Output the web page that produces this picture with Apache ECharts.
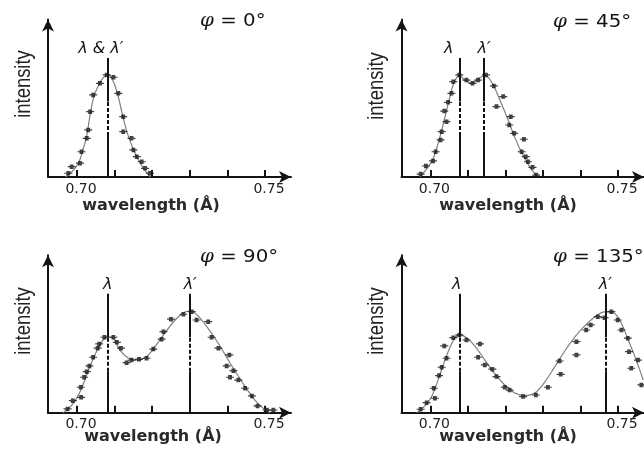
<!DOCTYPE html>
<html>
<head>
<meta charset="utf-8">
<script src="https://cdn.jsdelivr.net/npm/echarts@6/dist/echarts.min.js"></script>
<style>
  html, body { margin: 0; padding: 0; background: #fff; }
  #chart { width: 644px; height: 453px; }
</style>
</head>
<body>
<div id="chart"></div>
<script>
// Compton scattering: X-ray intensity vs wavelength at four scattering angles.

// scattering angles (panel titles)
const angleTitles = ['0°', '45°', '90°', '135°'];

// wavelength axis (Å)
const wavelengthMin = 0.6923;
const wavelengthMax = 0.7569;
const tickValues = [0.70, 0.71, 0.72, 0.73, 0.74, 0.75];
const tickLabels = [0.70, 0.75];

// intensity axis (arbitrary units)
const intensityMax = 96;

// measured points, phi = 0°
const points0 = [
  [0.6977, 2.3], [0.6986, 6.3], [0.7008, 8.4], [0.7012, 15.4], [0.7026, 23.6],
  [0.7030, 28.7], [0.7035, 39.8], [0.7043, 50.0], [0.7061, 57.1], [0.7079, 62.2],
  [0.7097, 60.8], [0.7110, 51.0], [0.7123, 36.8], [0.7123, 27.6], [0.7145, 23.6],
  [0.7150, 16.5], [0.7159, 12.4], [0.7172, 9.3], [0.7181, 5.3], [0.7194, 2.3]
];
// fitted profile, phi = 0°
const curve0 = [
  [0.6970, 0], [0.6990, 4], [0.7005, 9], [0.7015, 16], [0.7025, 24], [0.7035, 38],
  [0.7045, 49], [0.7060, 57], [0.7072, 61], [0.7082, 62.5], [0.7095, 59], [0.7105, 53],
  [0.7115, 44], [0.7125, 34], [0.7135, 26], [0.7148, 18], [0.7162, 11], [0.7178, 5],
  [0.7195, 0]
];

// measured points, phi = 45°
const points45 = [
  [0.6974, 1.8], [0.6988, 6.7], [0.7007, 9.8], [0.7014, 15.4], [0.7027, 22.6],
  [0.7030, 27.6], [0.7043, 33.7], [0.7037, 40.2], [0.7047, 45.5], [0.7056, 51.0],
  [0.7061, 58.1], [0.7077, 62.2], [0.7096, 59.1], [0.7112, 57.1], [0.7127, 59.1],
  [0.7148, 62.2], [0.7169, 55.5], [0.7176, 42.9], [0.7194, 49.0], [0.7210, 31.7],
  [0.7214, 36.8], [0.7223, 26.6], [0.7243, 15.4], [0.7249, 23.0], [0.7254, 12.4],
  [0.7260, 9.3], [0.7272, 5.9], [0.7282, 1.2]
];
const curve45 = [
  [0.6972, 0], [0.6990, 5], [0.7005, 10], [0.7020, 20], [0.7035, 33], [0.7050, 47],
  [0.7062, 57], [0.7077, 62], [0.7092, 59], [0.7110, 57], [0.7128, 60], [0.7146, 62],
  [0.7165, 57], [0.7185, 47], [0.7205, 36], [0.7225, 24], [0.7245, 14], [0.7265, 6],
  [0.7285, 0]
];

// measured points, phi = 90°
const points90 = [
  [0.6975, 2.3], [0.6989, 7.3], [0.7011, 9.4], [0.7010, 15.5], [0.7019, 21.6],
  [0.7026, 25.0], [0.7033, 28.5], [0.7043, 33.8], [0.7055, 39.3], [0.7059, 41.9],
  [0.7073, 46.0], [0.7097, 46.0], [0.7106, 42.9], [0.7117, 39.3], [0.7132, 30.5],
  [0.7145, 32.1], [0.7165, 32.6], [0.7185, 33.2], [0.7203, 38.8], [0.7225, 44.8],
  [0.7230, 49.4], [0.7250, 57.0], [0.7283, 60.0], [0.7305, 61.6], [0.7318, 56.5],
  [0.7349, 55.5], [0.7358, 46.0], [0.7376, 39.3], [0.7405, 35.2], [0.7398, 28.5],
  [0.7416, 25.6], [0.7407, 21.6], [0.7429, 19.9], [0.7447, 14.9], [0.7465, 10.2],
  [0.7480, 4.1], [0.7505, 1.6], [0.7522, 1.6]
];
const curve90 = [
  [0.6963, 0], [0.6987, 4.7], [0.7008, 12.6], [0.7035, 28.5], [0.7061, 41.3],
  [0.7080, 46.2], [0.7096, 45.5], [0.7114, 38.2], [0.7136, 33.4], [0.7160, 32.1],
  [0.7184, 34.0], [0.7207, 40.1], [0.7234, 48.6], [0.7261, 56.5], [0.7287, 61.4],
  [0.7303, 62.0], [0.7322, 59.0], [0.7348, 51.6], [0.7375, 42.5], [0.7407, 30.3],
  [0.7439, 18.7], [0.7473, 7.7], [0.7500, 1.6], [0.7513, 0]
];

// measured points, phi = 135°
const points135 = [
  [0.6974, 2.1], [0.6990, 6.1], [0.7012, 8.8], [0.7009, 14.9], [0.7023, 22.6],
  [0.7030, 27.7], [0.7043, 33.2], [0.7037, 40.7], [0.7061, 45.7], [0.7077, 47.4],
  [0.7096, 44.3], [0.7132, 41.9], [0.7127, 33.8], [0.7145, 29.1], [0.7165, 26.5],
  [0.7176, 22.0], [0.7198, 15.5], [0.7211, 13.8], [0.7247, 9.8], [0.7281, 10.8],
  [0.7313, 15.5], [0.7344, 31.5], [0.7347, 23.4], [0.7389, 43.3], [0.7389, 35.2],
  [0.7415, 50.4], [0.7427, 53.5], [0.7446, 58.5], [0.7464, 57.9], [0.7482, 61.6],
  [0.7499, 56.5], [0.7509, 50.4], [0.7526, 45.4], [0.7529, 37.2], [0.7535, 27.1],
  [0.7553, 32.1], [0.7562, 16.9]
];
const curve135 = [
  [0.6964, 0], [0.6985, 4.1], [0.7004, 10.2], [0.7025, 23], [0.7047, 37], [0.7065, 45.5],
  [0.7078, 47.4], [0.7097, 45.5], [0.7118, 40.7], [0.7145, 32.1], [0.7172, 23.6],
  [0.7198, 16.9], [0.7225, 12.0], [0.7251, 10.5], [0.7278, 12.0], [0.7304, 18.5],
  [0.7331, 27.9], [0.7358, 37.6], [0.7385, 46.2], [0.7411, 52.9], [0.7438, 58.4],
  [0.7464, 61.4], [0.7483, 61.4], [0.7504, 56.5], [0.7525, 45.5], [0.7546, 33.4],
  [0.7567, 19.9]
];

// primary (λ) and shifted (λ′) line positions, Å
const lines0 = [0.7082];
const lines45 = [0.7078, 0.7143];
const lines90 = [0.7082, 0.7301];
const lines135 = [0.7078, 0.7466];
const lineNames0 = ['λ & λ′'];
const lineNames45 = ['λ', 'λ′'];
const lineNames90 = ['λ', 'λ′'];
const lineNames135 = ['λ', 'λ′'];

// height of the marker lines and the dashed stretch inside the profile
const lineTop = 72.5;
const dashFrom = 25;
const dashTo = 46;

// ---- layout ----
const grids = [
  { left: 48, top: 19.5, width: 243, height: 157.5 },
  { left: 401.5, top: 19.5, width: 243, height: 157.5 },
  { left: 48, top: 255.2, width: 243, height: 157.5 },
  { left: 401.5, top: 255.2, width: 243, height: 157.5 }
];
const labelNudge = [[-7], [-11, 0], [0, 0], [-3, 0]];
const intensityPos = [[24, 84], [376.5, 86], [24, 321], [376.5, 321]];
const wavelengthPos = [[151, 205.5], [508, 206], [153, 437], [508, 437]];
const titlePos = [[200, 21], [553, 22], [200, 257], [553, 257]];

const panels = [
  { points: points0, curve: curve0, lines: lines0, names: lineNames0 },
  { points: points45, curve: curve45, lines: lines45, names: lineNames45 },
  { points: points90, curve: curve90, lines: lines90, names: lineNames90 },
  { points: points135, curve: curve135, lines: lines135, names: lineNames135 }
];

const ink = '#141414';
// a dark dot with a short horizontal bar through it
const pointSymbol = 'path://M0 3.2H10V4.8H0Z M2.6 1H7.4V7H2.6Z';

const xAxes = grids.map((g, i) => ({
  type: 'value', gridIndex: i, min: wavelengthMin, max: wavelengthMax,
  splitLine: { show: false },
  axisLine: { show: true, onZero: false, symbol: ['none', 'arrow'], symbolSize: [9, 12],
    lineStyle: { color: ink, width: 2 } },
  axisTick: { show: true, inside: true, length: 7, customValues: tickValues,
    lineStyle: { color: ink, width: 2 } },
  axisLabel: { show: true, customValues: tickLabels, margin: 5,
    formatter: v => v.toFixed(2), fontFamily: 'DejaVu Sans', fontSize: 14, color: '#222',
    padding: [0, 0, 0, 8] }
}));

const yAxes = grids.map((g, i) => ({
  type: 'value', gridIndex: i, min: 0, max: intensityMax,
  splitLine: { show: false },
  axisLine: { show: true, onZero: false, symbol: ['none', 'arrow'], symbolSize: [9, 12],
    lineStyle: { color: ink, width: 2 } },
  axisTick: { show: false },
  axisLabel: { show: false }
}));

const series = [];
panels.forEach((p, i) => {
  const markData = [];
  p.lines.forEach((x, k) => {
    const nudge = labelNudge[i][k];
    markData.push([{ coord: [x, 0], lineStyle: { type: 'solid' } }, { coord: [x, dashFrom] }]);
    markData.push([{ coord: [x, dashFrom], lineStyle: { type: [4, 2] } }, { coord: [x, dashTo] }]);
    markData.push([{
      coord: [x, dashTo], lineStyle: { type: 'solid' },
      label: {
        show: true, position: 'end', formatter: p.names[k], distance: 1,
        fontFamily: 'DejaVu Sans', fontStyle: 'italic', fontSize: 16, color: ink,
        padding: nudge < 0 ? [0, -2 * nudge, 0, 0] : [0, 0, 0, 2 * nudge]
      }
    }, { coord: [x, lineTop] }]);
  });
  series.push({
    type: 'line', xAxisIndex: i, yAxisIndex: i, data: p.curve, smooth: 0.35,
    showSymbol: false, silent: true, z: 2,
    lineStyle: { color: '#808080', width: 1.2 },
    markLine: {
      silent: true, symbol: ['none', 'none'], animation: false, z: 3,
      lineStyle: { color: ink, width: 2 },
      label: { show: false },
      data: markData
    }
  });
  series.push({
    type: 'scatter', xAxisIndex: i, yAxisIndex: i, data: p.points, silent: true, z: 4,
    symbol: pointSymbol, symbolSize: [8, 4.5],
    itemStyle: { color: '#111' }
  });
});

const graphic = [];
intensityPos.forEach(([x, y]) => graphic.push({
  type: 'text', x, y, rotation: Math.PI / 2, scaleX: 1.15, scaleY: 1.4, silent: true,
  style: { text: 'intensity', fontFamily: 'Liberation Sans', fontSize: 16, fill: '#222',
    textAlign: 'center', textVerticalAlign: 'middle' }
}));
wavelengthPos.forEach(([x, y]) => graphic.push({
  type: 'text', x, y, silent: true,
  style: { text: 'wavelength (Å)', fontFamily: 'DejaVu Sans', fontWeight: 'bold', fontSize: 16,
    fill: '#2a2a2a', textAlign: 'center', textVerticalAlign: 'middle' }
}));
titlePos.forEach(([x, y], i) => graphic.push({
  type: 'text', x, y, silent: true, scaleX: 1.1,
  style: { text: '{p|φ} = ' + angleTitles[i], fontFamily: 'DejaVu Sans', fontSize: 18,
    fill: ink, textAlign: 'left', textVerticalAlign: 'middle',
    rich: { p: { fontFamily: 'DejaVu Serif', fontStyle: 'italic', fontSize: 18, fill: ink } } }
}));

const chart = echarts.init(document.getElementById('chart'), null, { renderer: 'canvas' });
chart.setOption({
  animation: false,
  backgroundColor: '#ffffff',
  grid: grids,
  xAxis: xAxes,
  yAxis: yAxes,
  series,
  graphic
});
</script>
</body>
</html>
